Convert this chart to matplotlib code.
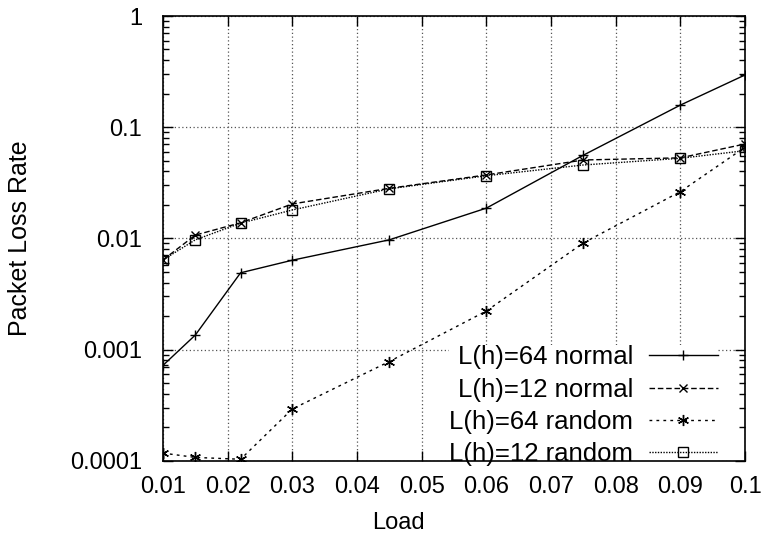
import matplotlib.pyplot as plt
from matplotlib.ticker import FixedLocator, FixedFormatter, LogLocator, NullFormatter

plt.rcParams['font.family'] = ['Liberation Sans', 'DejaVu Sans']

load = [0.01, 0.015, 0.022, 0.03, 0.045, 0.06, 0.075, 0.09, 0.1]

# packet loss rate per series
h64_normal = [0.00072, 0.00135, 0.0049, 0.00636, 0.0097, 0.0187, 0.056, 0.158, 0.295]
h12_normal = [0.0064, 0.0107, 0.0138, 0.0204, 0.0282, 0.0372, 0.0507, 0.053, 0.0706]
h64_random = [0.000117, 0.000107, 0.000103, 0.000292, 0.00078, 0.00222, 0.0091, 0.0263, 0.066]
h12_random = [0.0064, 0.0097, 0.0137, 0.018, 0.0279, 0.0366, 0.0457, 0.0525, 0.0615]

xticks = [0.01, 0.02, 0.03, 0.04, 0.05, 0.06, 0.07, 0.08, 0.09, 0.1]
xlabels = ['0.01', '0.02', '0.03', '0.04', '0.05', '0.06', '0.07', '0.08', '0.09', '0.1']
yticks = [0.0001, 0.001, 0.01, 0.1, 1]
ylabels = ['0.0001', '0.001', '0.01', '0.1', '1']

fig = plt.figure(figsize=(7.62, 5.45), dpi=100)
ax = fig.add_axes([0.2139, 0.1547, 0.7638, 0.8159])

ax.plot(load, h64_normal, color='black', lw=1, ls='-', marker='+', ms=7, mew=1,
        label='L(h)=64 normal')
ax.plot(load, h12_normal, color='black', lw=1, ls=(0, (4, 2)), marker='x', ms=6, mew=1,
        label='L(h)=12 normal')
ax.plot(load, h64_random, color='black', lw=1, ls=(0, (2, 3)), marker=(6, 2, 0), ms=8, mew=1,
        label='L(h)=64 random')
ax.plot(load, h12_random, color='black', lw=1, ls=(0, (1, 1)), marker='s', ms=7, mew=1,
        mfc='none', label='L(h)=12 random')

ax.set_yscale('log')
ax.set_xlim(0.01, 0.1)
ax.set_ylim(0.0001, 1)

ax.xaxis.set_major_locator(FixedLocator(xticks))
ax.xaxis.set_major_formatter(FixedFormatter(xlabels))
ax.yaxis.set_major_locator(FixedLocator(yticks))
ax.yaxis.set_major_formatter(FixedFormatter(ylabels))
ax.yaxis.set_minor_locator(LogLocator(base=10, subs=range(2, 10)))
ax.yaxis.set_minor_formatter(NullFormatter())

ax.tick_params(which='both', direction='in', top=True, right=True, labelsize=17)
ax.tick_params(which='major', length=7, width=1)
ax.tick_params(which='minor', length=4, width=1)
ax.tick_params(axis='x', pad=11)
ax.tick_params(axis='y', pad=15)

ax.grid(True, which='major', color='#555555', ls=(0, (1, 2)), lw=0.9)

for s in ax.spines.values():
    s.set_linewidth(1.2)

ax.set_xlabel('Load', fontsize=17)
ax.set_ylabel('Packet Loss Rate', fontsize=18)
ax.xaxis.set_label_coords(0.405, -0.115)
ax.yaxis.set_label_coords(-0.225, 0.5)

leg = ax.legend(loc='lower right', frameon=True, markerfirst=False, fontsize=18.5,
                handlelength=2.7, handletextpad=0.6, labelspacing=0.32,
                borderpad=0, borderaxespad=0, bbox_to_anchor=(0.9536, -0.012),
                fancybox=False, framealpha=1)
leg.get_frame().set_edgecolor('none')
leg.get_frame().set_facecolor('white')
leg.set_zorder(2.4)  # keep the axis lines on top of the white key box

fig.savefig('out.png', dpi=100)
